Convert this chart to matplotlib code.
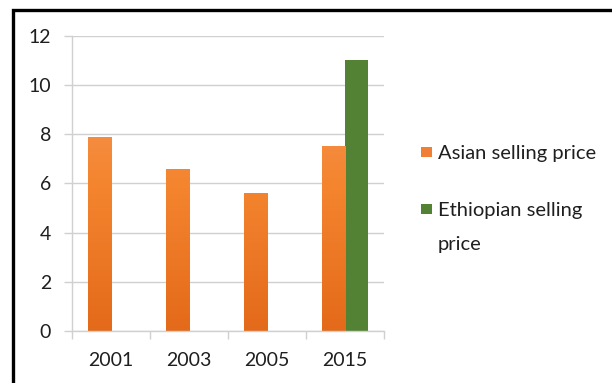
import numpy as np
import matplotlib
matplotlib.use("Agg")
import matplotlib.pyplot as plt
import matplotlib.colors
from matplotlib.patches import Rectangle

# data
years = ["2001", "2003", "2005", "2015"]
asian = [7.9, 6.6, 5.6, 7.5]
ethiopian = [0, 0, 0, 11.0]
yticks = [0, 2, 4, 6, 8, 10, 12]
series_labels = ["Asian selling price", "Ethiopian selling\nprice"]

orange_top = "#F29A63"
orange_mid = "#F5852F"
orange_bot = "#E36A1A"
green = "#548235"
grid_col = "#D0D0D0"
text_col = "#1F1F1F"

plt.rcParams["font.family"] = ["Lato", "DejaVu Sans"]

W, H = 612, 383
fig = plt.figure(figsize=(W / 100, H / 100), dpi=100)
ax = fig.add_axes([72 / W, 1 - 331 / H, (384 - 72) / W, (331 - 35.7) / H])

x = np.arange(len(years))
bw = 0.295
b1 = ax.bar(x - bw / 2, asian, bw, color=orange_mid, zorder=2)
b2 = ax.bar(x + bw / 2, ethiopian, bw, color=green, zorder=2)

# soft vertical gradient on the orange bars, like the office chart
cmap = matplotlib.colors.LinearSegmentedColormap.from_list(
    "og", [orange_bot, orange_mid, orange_top]
)
grad = np.linspace(0, 1, 256).reshape(-1, 1)
for r in b1:
    bx, bwid = r.get_x(), r.get_width()
    r.set_facecolor("none")
    im = ax.imshow(
        grad,
        extent=[bx, bx + bwid, 0, 12],
        origin="lower",
        cmap=cmap,
        aspect="auto",
        zorder=2,
    )
    im.set_clip_path(r)

ax.set_xlim(-0.5, len(years) - 0.5)
ax.set_ylim(0, 12)
ax.set_yticks(yticks)
ax.set_xticks(x)
ax.set_xticklabels(years)
ax.set_xticks(np.arange(-0.5, len(years), 1), minor=True)

ax.grid(axis="y", color=grid_col, lw=1.0, zorder=0)
for s in ["top", "right"]:
    ax.spines[s].set_visible(False)
for s in ["left", "bottom"]:
    ax.spines[s].set_color(grid_col)
    ax.spines[s].set_linewidth(1.0)

ax.tick_params(axis="y", length=6, width=1.0, color=grid_col, pad=9,
               labelsize=14, labelcolor=text_col)
ax.tick_params(axis="x", which="major", length=0, pad=15,
               labelsize=14, labelcolor=text_col)
ax.tick_params(axis="x", which="minor", length=6, width=1.0, color=grid_col)

# legend drawn by hand so the marker sits on the first text line
def px(xp, yp):
    return xp / W, 1 - yp / H

legend_cols = ["#F07F35", green]
first_baselines = [159, 216]
line_step = 34
for lab, col, yb in zip(series_labels, legend_cols, first_baselines):
    mx, my = px(421, yb - 2)
    fig.patches.append(
        Rectangle((mx, my), 11 / W, 10 / H, transform=fig.transFigure,
                  facecolor=col, edgecolor="none")
    )
    for k, line in enumerate(lab.split("\n")):
        tx, ty = px(438, yb + k * line_step)
        fig.text(tx, ty, line, fontsize=14.5, color=text_col,
                 ha="left", va="baseline")

# outer chart frame (only top and left edges fall inside the picture)
fig.patches.append(
    Rectangle((13 / W, -0.1), 1.2, 1 - 10.5 / H + 0.1, transform=fig.transFigure,
              fill=False, edgecolor="black", lw=2.4)
)

fig.savefig("out.png", dpi=100)
